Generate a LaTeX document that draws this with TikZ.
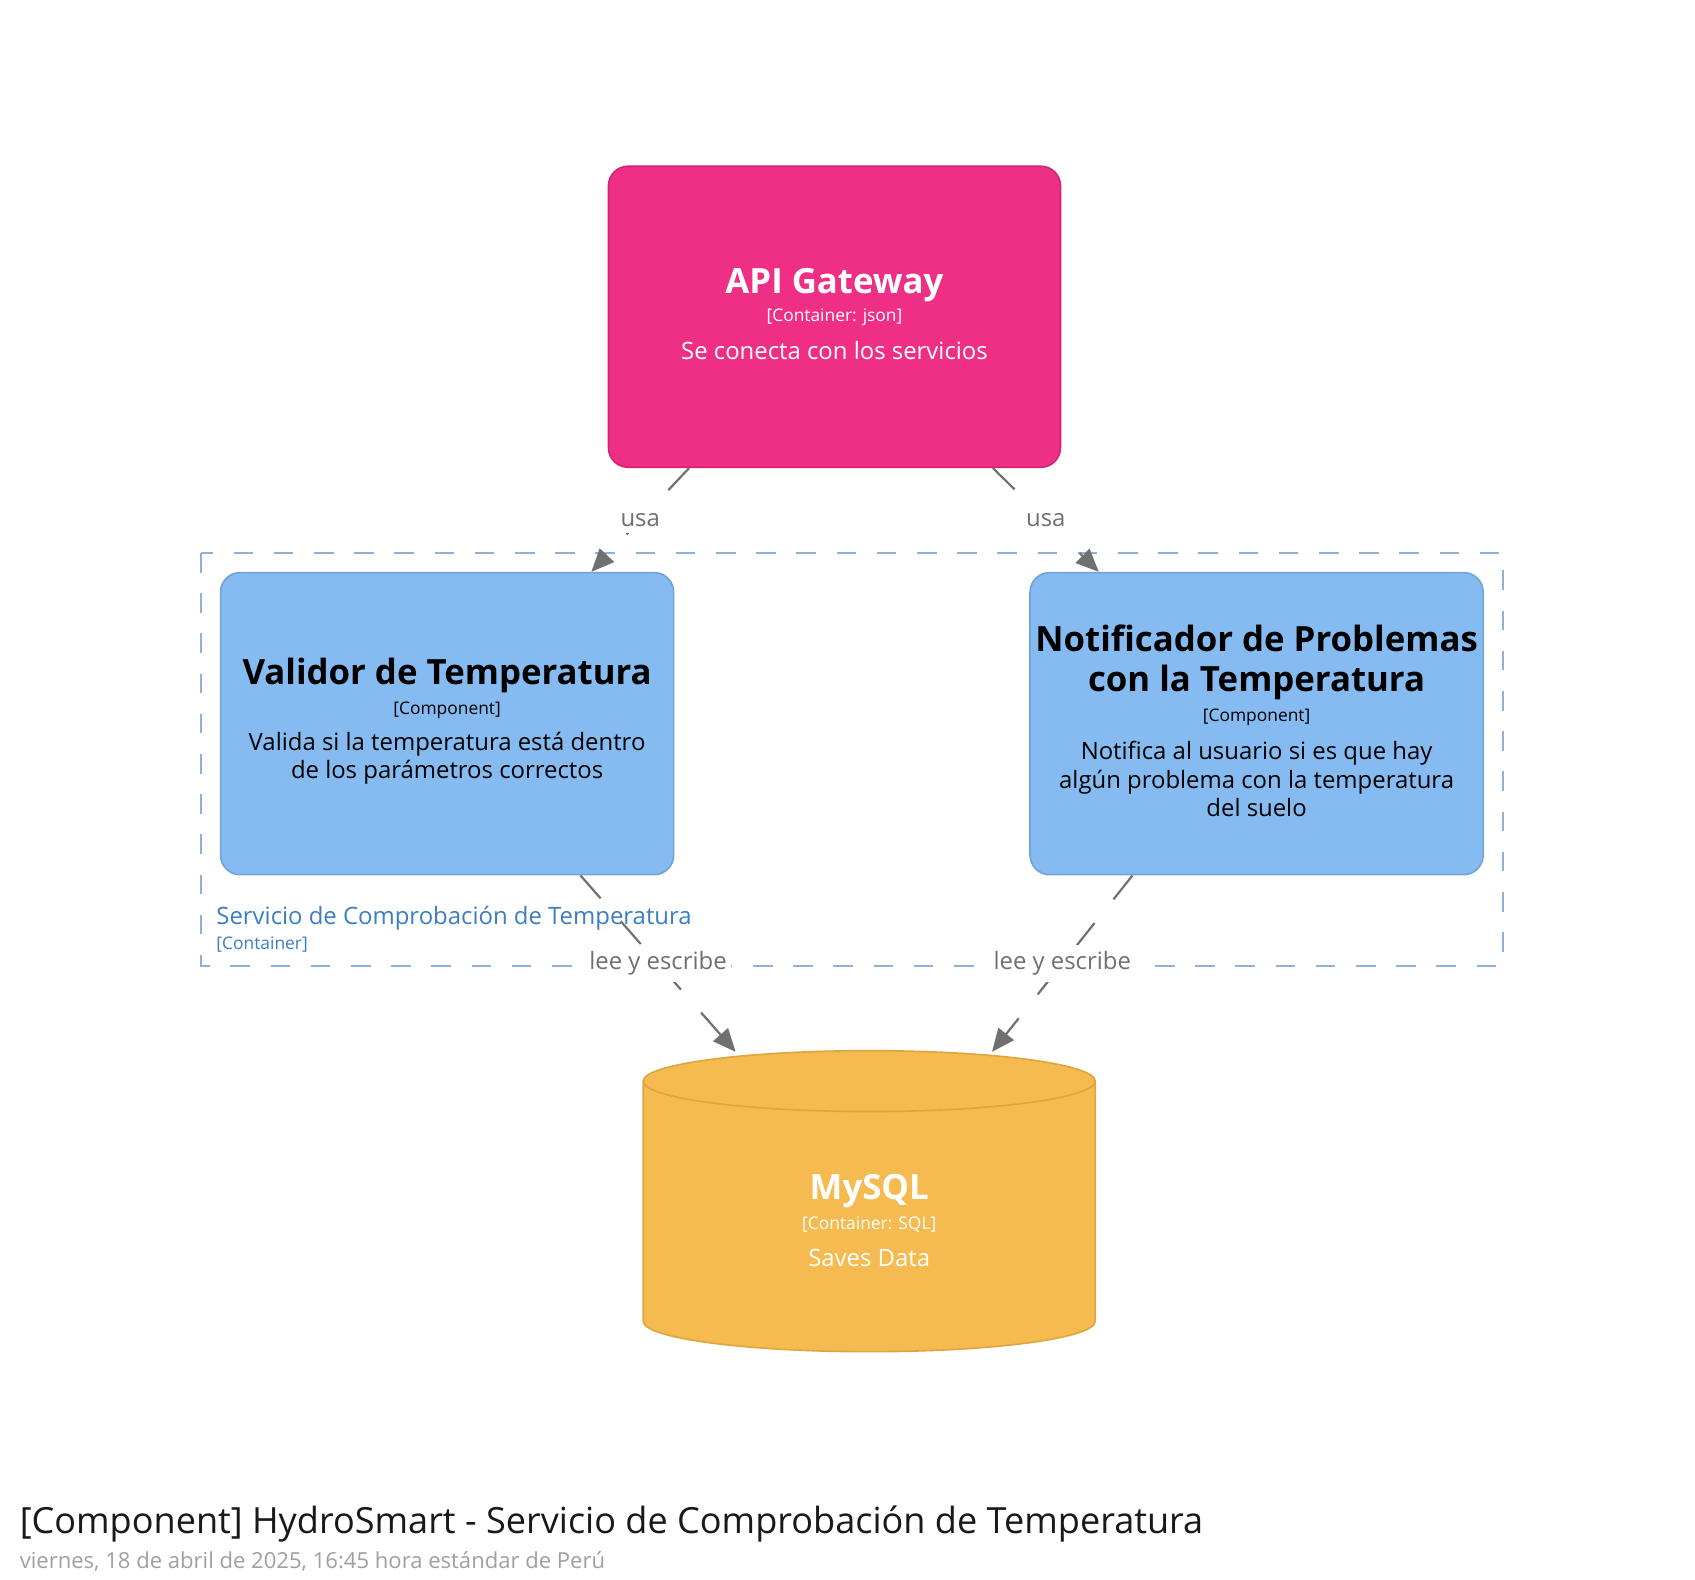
\documentclass[tikz,border=0pt]{standalone}
\usepackage{fontspec}
\setmainfont{Open Sans}
\usetikzlibrary{arrows.meta,calc}
\definecolor{apipink}{HTML}{EE2F85}
\definecolor{apiborder}{HTML}{D32672}
\definecolor{compblue}{HTML}{85BBF0}
\definecolor{compborder}{HTML}{6FA3DB}
\definecolor{dbyellow}{HTML}{F5BB50}
\definecolor{dbborder}{HTML}{DFA640}
\definecolor{bndline}{HTML}{8EB1D9}
\definecolor{bndtext}{HTML}{3C7EC4}
\definecolor{relgray}{HTML}{707070}
\definecolor{dategray}{HTML}{A0A0A0}
\tikzset{
  box/.style={rectangle, rounded corners=18pt, line width=1.5pt, inner sep=0pt,
    minimum width=417pt, minimum height=278pt},
  nametxt/.style={font=\bfseries\fontsize{32}{37}\selectfont, align=center, inner sep=0pt},
  smalltxt/.style={font=\fontsize{16}{19}\selectfont, inner sep=0pt},
  desctxt/.style={font=\fontsize{22}{26}\selectfont, align=center, inner sep=0pt},
  rel/.style={draw=relgray, line width=2pt, dash pattern=on 28pt off 28pt,
    -{Triangle[length=21pt,width=18pt]}},
  rellabel/.style={fill=white, text=relgray, font=\fontsize{22}{26}\selectfont, inner xsep=4pt, inner ysep=6pt}
}
\begin{document}
\begin{tikzpicture}[x=1pt,y=1pt]
\useasboundingbox (0,0) rectangle (1560,-1454);
\fill[white] (0,0) rectangle (1560,-1454);

% boundary
\draw[bndline, line width=1.5pt, dash pattern=on 18pt off 19pt] (185,-509) rectangle (1383,-889);
\node[anchor=west, text=bndtext, font=\fontsize{22}{26}\selectfont, inner sep=0pt] (bndname) at (199,-845) {Servicio de Comprobación de Temperatura};
\node[anchor=west, text=bndtext, font=\fontsize{16}{19}\selectfont, inner sep=0pt] (bndtype) at (199,-869) {[Container]};

% API Gateway
\node[box, fill=apipink, draw=apiborder, minimum width=416pt, minimum height=277pt] (api) at (768,-291.5) {};
\node[nametxt, text=white] (apiname) at (768,-262) {API Gateway};
\node[smalltxt, text=white] (apitype) at (768,-292) {[Container: json]};
\node[desctxt, text=white] (apidesc) at (768,-323) {Se conecta con los servicios};

% Validor
\node[box, fill=compblue, draw=compborder] (val) at (411.5,-666) {};
\node[nametxt] (valname) at (411.5,-622) {Validor de Temperatura};
\node[smalltxt] (valtype) at (411.5,-654) {[Component]};
\node[desctxt] (valdesc) at (411.5,-698) {Valida si la temperatura está dentro\\de los parámetros correctos};

% Notificador
\node[box, fill=compblue, draw=compborder] (notif) at (1156.5,-666) {};
\node[nametxt] (notifname) at (1156.5,-609.5) {Notificador de Problemas\\con la Temperatura};
\node[smalltxt] (notiftype) at (1156.5,-660) {[Component]};
\node[desctxt] (notifdesc) at (1156.5,-717) {Notifica al usuario si es que hay\\algún problema con la temperatura\\del suelo};

% MySQL cylinder
\filldraw[fill=dbyellow, draw=dbborder, line width=1.5pt]
  (592,-995) -- (592,-1216) arc[start angle=180, end angle=360, x radius=208, y radius=28]
  -- (1008,-995) arc[start angle=0, end angle=180, x radius=208, y radius=28] -- cycle;
\draw[dbborder, line width=1.5pt] (592,-995) arc[start angle=180, end angle=360, x radius=208, y radius=28];
\node[inner sep=0pt, minimum width=416pt, minimum height=250pt] (db) at (800,-1105) {};
\coordinate (dbl) at (677,-968);
\coordinate (dbr) at (913,-968);
\node[nametxt, text=white] (dbname) at (800,-1096) {MySQL};
\node[smalltxt, text=white] (dbtype) at (800,-1127) {[Container: SQL]};
\node[desctxt, text=white] (dbdesc) at (800,-1158) {Saves Data};

% relationships
\draw[rel] ([xshift=75pt]api.south west) -- node[rellabel] (l1) {usa} ([xshift=342pt]val.north west);
\draw[rel] ([xshift=-63pt]api.south east) -- node[rellabel] (l2) {usa} ([xshift=64pt]notif.north west);
\draw[rel] ([xshift=332pt]val.south west) -- node[rellabel] (l3) {lee y escribe} (dbl);
\draw[rel] ([xshift=95pt]notif.south west) -- node[rellabel] (l4) {lee y escribe} (dbr);

% title
\node[anchor=west, inner sep=0pt, text=black!90, font=\fontsize{33.2}{38}\selectfont] (title) at (18,-1403) {[Component] HydroSmart - Servicio de Comprobación de Temperatura};
\node[anchor=west, inner sep=0pt, text=dategray, font=\fontsize{20.3}{24}\selectfont] (date) at (18,-1437) {viernes, 18 de abril de 2025, 16:45 hora estándar de Perú};
\end{tikzpicture}
\end{document}
